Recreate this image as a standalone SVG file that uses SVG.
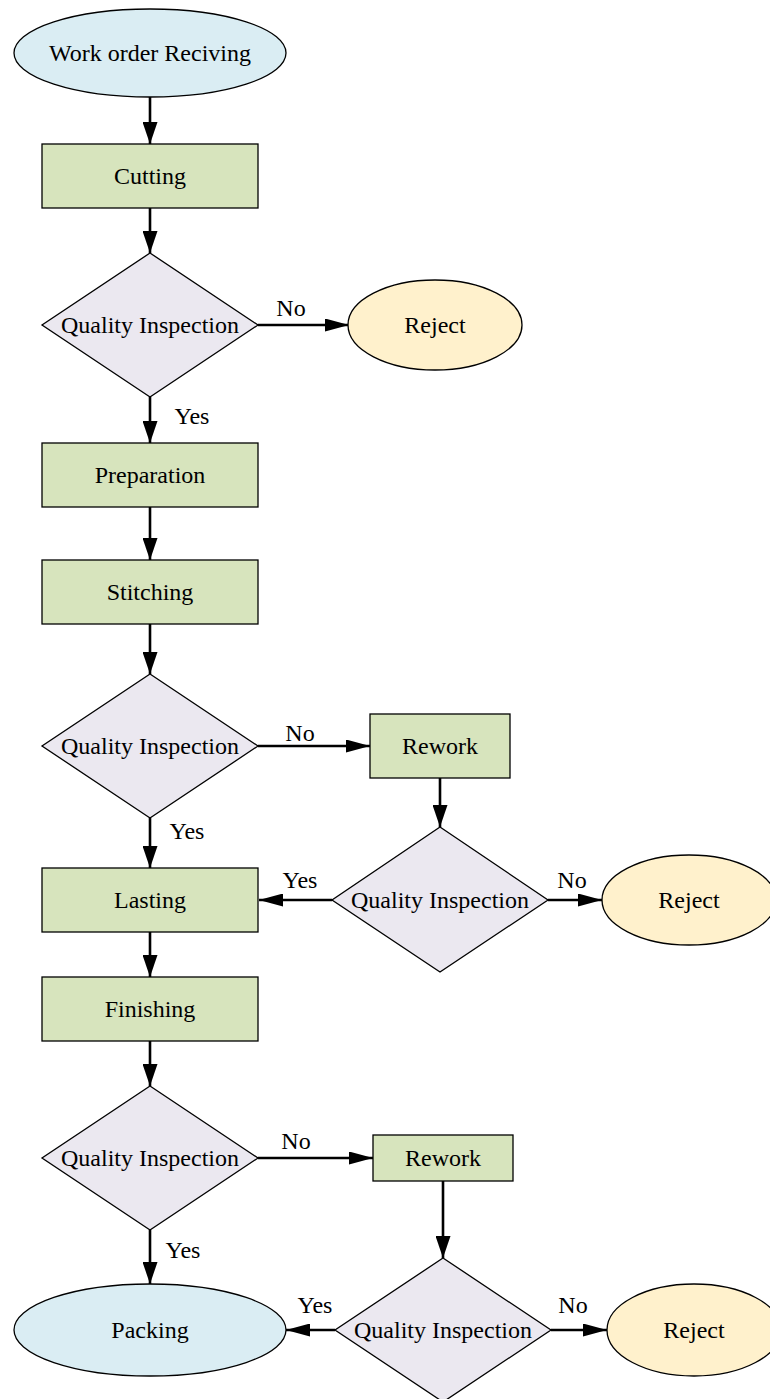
<svg xmlns="http://www.w3.org/2000/svg" width="770" height="1399" viewBox="0 0 770 1399">
<style>
text{font-family:"Liberation Serif","Times New Roman",serif;font-size:24px;fill:#000;text-anchor:middle;dominant-baseline:central}
.lbl{dominant-baseline:auto}
.term{fill:#daedf3;stroke:#000;stroke-width:1.3}
.proc{fill:#d7e4bd;stroke:#000;stroke-width:1.3}
.dec{fill:#ebe8f0;stroke:#000;stroke-width:1.3}
.rej{fill:#fff1cc;stroke:#000;stroke-width:1.3}
.edge{stroke:#000;stroke-width:2.6;fill:none}
</style>
<defs>
<marker id="arrV" viewBox="0 0 22 15" refX="22" refY="7.5" markerWidth="22" markerHeight="15" markerUnits="userSpaceOnUse" orient="auto">
<path d="M0,0 L22,7.5 L0,15 Z" fill="#000"/>
</marker>
<marker id="arrH" viewBox="0 0 24 13" refX="24" refY="6.5" markerWidth="24" markerHeight="13" markerUnits="userSpaceOnUse" orient="auto">
<path d="M0,0 L24,6.5 L0,13 Z" fill="#000"/>
</marker>
</defs>
<g id="connectors">
<line class="edge" x1="150" y1="97" x2="150" y2="144" marker-end="url(#arrV)"/>
<line class="edge" x1="150" y1="208" x2="150" y2="253" marker-end="url(#arrV)"/>
<line class="edge" x1="258" y1="325" x2="349" y2="325" marker-end="url(#arrH)"/>
<line class="edge" x1="150" y1="397" x2="150" y2="443" marker-end="url(#arrV)"/>
<line class="edge" x1="150" y1="507" x2="150" y2="560" marker-end="url(#arrV)"/>
<line class="edge" x1="150" y1="624" x2="150" y2="674" marker-end="url(#arrV)"/>
<line class="edge" x1="258" y1="746" x2="370" y2="746" marker-end="url(#arrH)"/>
<line class="edge" x1="440" y1="778" x2="440" y2="827" marker-end="url(#arrV)"/>
<line class="edge" x1="150" y1="818" x2="150" y2="868" marker-end="url(#arrV)"/>
<line class="edge" x1="332" y1="900" x2="259" y2="900" marker-end="url(#arrH)"/>
<line class="edge" x1="548" y1="900" x2="602" y2="900" marker-end="url(#arrH)"/>
<line class="edge" x1="150" y1="932" x2="150" y2="977" marker-end="url(#arrV)"/>
<line class="edge" x1="150" y1="1041" x2="150" y2="1086" marker-end="url(#arrV)"/>
<line class="edge" x1="258" y1="1158" x2="373" y2="1158" marker-end="url(#arrH)"/>
<line class="edge" x1="443" y1="1181" x2="443" y2="1258" marker-end="url(#arrV)"/>
<line class="edge" x1="150" y1="1230" x2="150" y2="1284" marker-end="url(#arrV)"/>
<line class="edge" x1="335" y1="1330" x2="286" y2="1330" marker-end="url(#arrH)"/>
<line class="edge" x1="551" y1="1330" x2="607" y2="1330" marker-end="url(#arrH)"/>
<text class="lbl" x="291" y="316">No</text>
<text class="lbl" x="192" y="424">Yes</text>
<text class="lbl" x="300" y="741">No</text>
<text class="lbl" x="187" y="839">Yes</text>
<text class="lbl" x="300" y="888">Yes</text>
<text class="lbl" x="572" y="888">No</text>
<text class="lbl" x="296" y="1149">No</text>
<text class="lbl" x="183" y="1258">Yes</text>
<text class="lbl" x="315" y="1313">Yes</text>
<text class="lbl" x="573" y="1313">No</text>
</g>
<g id="start"><ellipse class="term" cx="150" cy="53" rx="136" ry="44"/><text x="150" y="53">Work order Reciving</text></g>
<g id="cutting"><rect class="proc" x="42" y="144" width="216" height="64"/><text x="150" y="176">Cutting</text></g>
<g id="qi1"><polygon class="dec" points="150,253 258,325 150,397 42,325"/><text x="150" y="325">Quality Inspection</text></g>
<g id="reject1"><ellipse class="rej" cx="435" cy="325" rx="87" ry="45"/><text x="435" y="325">Reject</text></g>
<g id="preparation"><rect class="proc" x="42" y="443" width="216" height="64"/><text x="150" y="475">Preparation</text></g>
<g id="stitching"><rect class="proc" x="42" y="560" width="216" height="64"/><text x="150" y="592">Stitching</text></g>
<g id="qi2"><polygon class="dec" points="150,674 258,746 150,818 42,746"/><text x="150" y="746">Quality Inspection</text></g>
<g id="rework1"><rect class="proc" x="370" y="714" width="140" height="64"/><text x="440" y="746">Rework</text></g>
<g id="qi3"><polygon class="dec" points="440,827 548,900 440,972 332,900"/><text x="440" y="900">Quality Inspection</text></g>
<g id="lasting"><rect class="proc" x="42" y="868" width="216" height="64"/><text x="150" y="900">Lasting</text></g>
<g id="reject2"><ellipse class="rej" cx="689" cy="900" rx="87" ry="45"/><text x="689" y="900">Reject</text></g>
<g id="finishing"><rect class="proc" x="42" y="977" width="216" height="64"/><text x="150" y="1009">Finishing</text></g>
<g id="qi4"><polygon class="dec" points="150,1086 258,1158 150,1230 42,1158"/><text x="150" y="1158">Quality Inspection</text></g>
<g id="rework2"><rect class="proc" x="373" y="1135" width="140" height="46"/><text x="443" y="1158">Rework</text></g>
<g id="qi5"><polygon class="dec" points="443,1258 551,1330 443,1402 335,1330"/><text x="443" y="1330">Quality Inspection</text></g>
<g id="packing"><ellipse class="term" cx="150" cy="1330" rx="136" ry="46"/><text x="150" y="1330">Packing</text></g>
<g id="reject3"><ellipse class="rej" cx="694" cy="1330" rx="87" ry="46"/><text x="694" y="1330">Reject</text></g>
</svg>
